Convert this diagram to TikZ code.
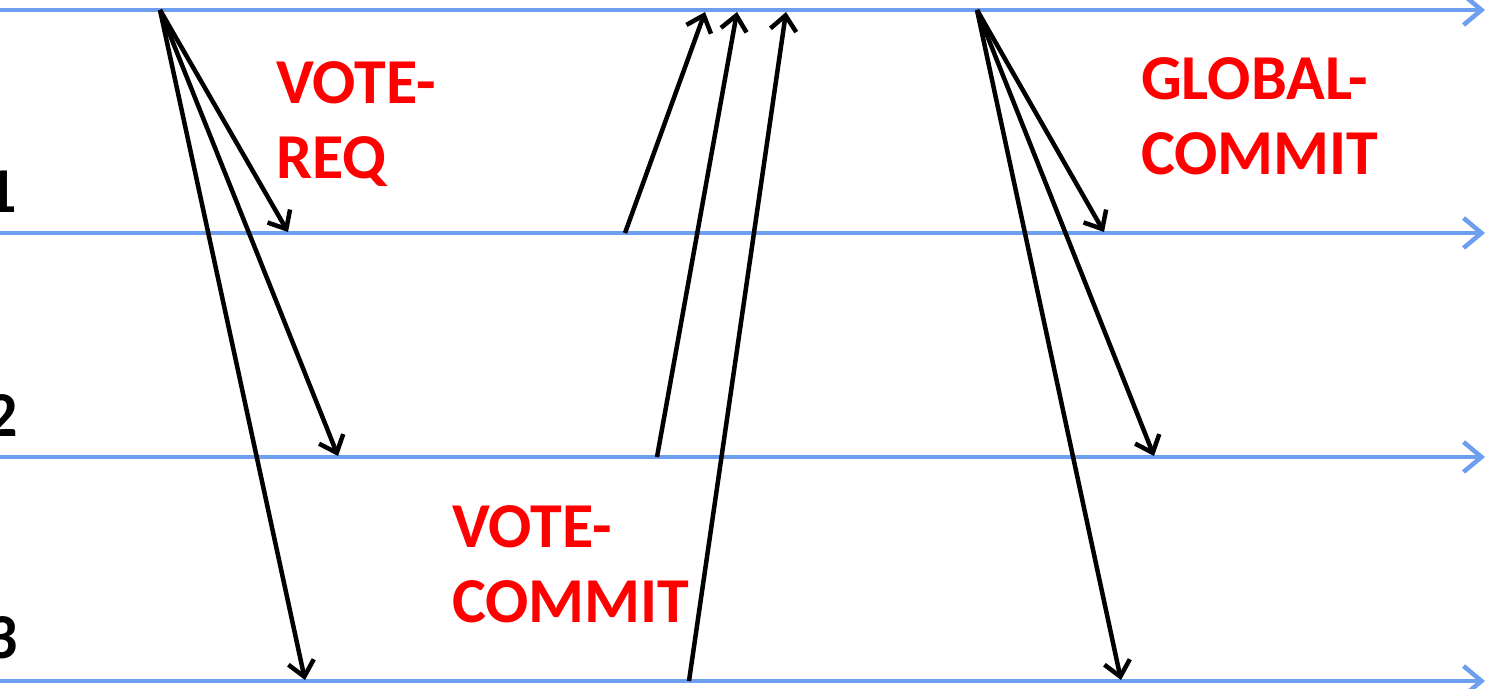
\documentclass[tikz,border=0pt]{standalone}
\usepackage{fontspec}
\setmainfont{Carlito}
\usetikzlibrary{arrows.meta}
\definecolor{tl}{RGB}{110,158,240}
\definecolor{lbl}{RGB}{255,0,0}
\tikzset{
  timeline/.style={draw=tl, line width=4.5pt, -{Straight Barb[length=18pt,width=30pt,line width=4.5pt]}},
  msg/.style={draw=black, line width=4.5pt, -{Straight Barb[length=15pt,width=26pt,line width=4.5pt]}},
  msglabel/.style={text=lbl, font=\bfseries\fontsize{64}{75}\selectfont, align=left, inner sep=0pt, anchor=base west},
  proclabel/.style={text=black, font=\bfseries\fontsize{64}{75}\selectfont, inner sep=0pt, anchor=base east},
}
\begin{document}
\begin{tikzpicture}[x=1pt,y=-1pt]
\useasboundingbox (0,0) rectangle (1488,688);
% timelines
\coordinate (c0) at (0,10);   \coordinate (c1) at (1485,10);
\coordinate (p1a) at (0,233); \coordinate (p1b) at (1485,233);
\coordinate (p2a) at (0,457); \coordinate (p2b) at (1485,457);
\coordinate (p3a) at (0,681); \coordinate (p3b) at (1485,681);
\draw[timeline] (c0) -- (c1);
\draw[timeline] (p1a) -- (p1b);
\draw[timeline] (p2a) -- (p2b);
\draw[timeline] (p3a) -- (p3b);
% process labels
\node[proclabel] (n1) at (17,212) {1};
\node[proclabel] (n2) at (18,436) {2};
\node[proclabel] (n3) at (18,658) {3};
% vote request
\coordinate (vr) at (160,10);
\coordinate (vr1) at (288,232);
\coordinate (vr2) at (338,456);
\coordinate (vr3) at (305,680);
\draw[msg] (vr) -- (vr1);
\draw[msg] (vr) -- (vr2);
\draw[msg] (vr) -- (vr3);
% votes
\coordinate (v1s) at (625,233); \coordinate (v1e) at (705,12);
\coordinate (v2s) at (657,457); \coordinate (v2e) at (737,12);
\coordinate (v3s) at (689,681); \coordinate (v3e) at (786,12);
\draw[msg] (v1s) -- (v1e);
\draw[msg] (v2s) -- (v2e);
\draw[msg] (v3s) -- (v3e);
% global commit
\coordinate (gc) at (977,10);
\coordinate (gc1) at (1104,232);
\coordinate (gc2) at (1154,456);
\coordinate (gc3) at (1121,680);
\draw[msg] (gc) -- (gc1);
\draw[msg] (gc) -- (gc2);
\draw[msg] (gc) -- (gc3);
% labels (anchor = baseline of last line)
\node[msglabel] (lvr) at (276,178) {VOTE-\\REQ};
\node[msglabel] (lvc) at (452,622) {VOTE-\\COMMIT};
\node[msglabel] (lgc) at (1141,174) {GLOBAL-\\COMMIT};
\end{tikzpicture}
\end{document}
